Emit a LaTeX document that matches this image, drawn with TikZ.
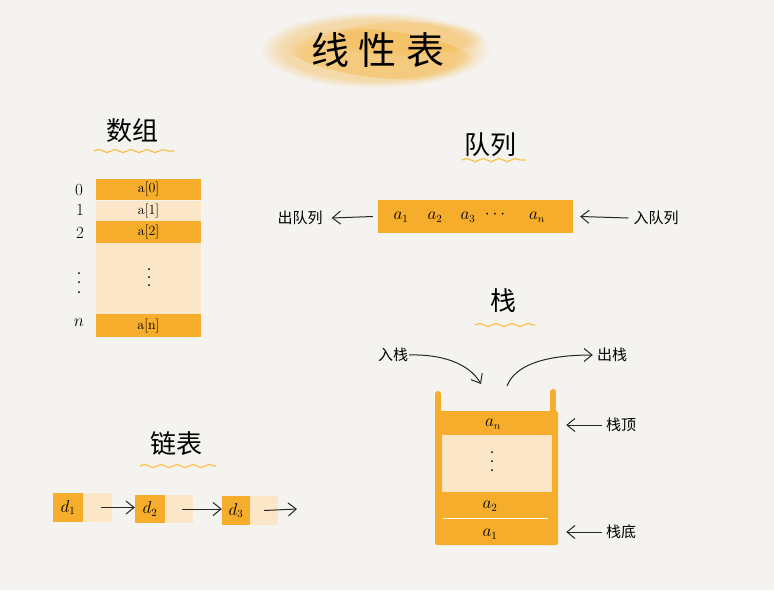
\documentclass[tikz,border=0pt]{standalone}
\usepackage{fontspec}
\newfontfamily\cjk{Noto Sans CJK SC}
\usetikzlibrary{decorations.pathmorphing,arrows.meta,fadings}
\definecolor{bg}{HTML}{F4F3F0}
\definecolor{org}{HTML}{F6AD2B}
\definecolor{peach}{HTML}{FCE6C8}
\definecolor{wavec}{HTML}{F7C04A}
\begin{document}
\begin{tikzpicture}[x=1pt,y=-1pt,
  hdr/.style={font=\cjk\fontsize{26}{30}\selectfont},
  lbl/.style={font=\cjk\fontsize{15}{17}\selectfont, inner sep=1pt},
  elt/.style={font=\fontsize{14}{16}\selectfont, inner sep=0pt},
  idx/.style={font=\fontsize{17}{19}\selectfont, inner sep=0pt},
  sym/.style={font=\fontsize{16}{18}\selectfont, inner sep=0pt},
  cellO/.style={fill=org, draw=none, inner sep=0pt},
  cellP/.style={fill=peach, draw=none, inner sep=0pt},
  wavy/.style={wavec, line width=1.2pt, decorate, decoration={snake, amplitude=1.6pt, segment length=16pt}},
  arr/.style={black!85, line width=1pt, -{Straight Barb[length=8pt,width=13pt]}}]
\useasboundingbox (0,0) rectangle (774,590);
\fill[bg] (0,0) rectangle (774,590);

% title brush
\fill[org, opacity=0.35, path fading=circle with fuzzy edge 20 percent] (375,50) ellipse [x radius=115, y radius=38];
\fill[org, opacity=0.35, path fading=circle with fuzzy edge 20 percent, rotate around={-6:(380,52)}] (380,54) ellipse [x radius=95, y radius=24];
\fill[org, opacity=0.25, path fading=circle with fuzzy edge 20 percent] (405,38) ellipse [x radius=80, y radius=18];
\node[font=\cjk\fontsize{38}{42}\selectfont] (title) at (378,50) {线\hspace{10pt}性\hspace{10pt}表};

% ---------- array ----------
\node[hdr] (arrh) at (132,131) {数组};
\draw[wavy] (94,151) -- (174,151);
\node[cellO, minimum width=105, minimum height=21] (c0) at (148.5,189) {};
\node[cellP, minimum width=105, minimum height=20] (c1) at (148.5,210.5) {};
\node[cellO, minimum width=105, minimum height=22] (c2) at (148.5,232) {};
\node[cellP, minimum width=105, minimum height=71] (cg) at (148.5,278.5) {};
\node[cellO, minimum width=105, minimum height=23] (cn) at (148.5,325.5) {};
\node[elt] at (c0) {a[0]};
\node[elt] at (c1) {a[1]};
\node[elt] at (c2) {a[2]};
\node[elt] at (cn) {a[n]};
\foreach \y in {269,277,285} \fill (149,\y) circle (1);
\node[idx] (i0) at (79,190) {0};
\node[idx] (i1) at (80,210) {1};
\node[idx] (i2) at (80,233) {2};
\foreach \y in {273,282,292} \fill (79,\y) circle (1);
\node[idx] (in) at (79,323) {$n$};

% ---------- queue ----------
\node[hdr] (qh) at (490,145) {队列};
\draw[wavy] (462,160) -- (526,160);
\node[cellO, minimum width=195, minimum height=33] (q) at (475.5,216.5) {};
\node[sym] (q1) at (401,217) {$a_1$};
\node[sym] (q2) at (435,217) {$a_2$};
\node[sym] (q3) at (468,217) {$a_3$};
\node[sym] (qd) at (495,215) {$\cdots$};
\node[sym] (qn) at (537,217) {$a_n$};
\node[lbl] (deq) at (300,218) {出队列};
\node[lbl] (enq) at (656,218) {入队列};
\draw[arr] ([xshift=-5pt]q.west) -- ([xshift=8pt]deq.east);
\draw[arr] ([xshift=-4pt]enq.west) -- ([xshift=7pt]q.east);

% ---------- stack ----------
\node[hdr] (sh) at (503,301) {栈};
\draw[wavy] (475,325) -- (535,325);
\draw[org, line width=6pt, line cap=round] (438,394) -- (438,414);
\draw[org, line width=6pt, line cap=round] (553,392) -- (553,414);
\node[cellO, minimum width=123, minimum height=134, rounded corners=2pt] (stk) at (496.5,478) {};
\node[cellP, minimum width=110, minimum height=57] (sgap) at (497,463.5) {};
\draw[white, line width=0.8pt] (443,518) -- (548,518);
\node[sym] (san) at (493,424) {$a_n$};
\foreach \y in {452,461,470} \fill (492,\y) circle (1);
\node[sym] (sa2) at (490,506) {$a_2$};
\node[sym] (sa1) at (490,534) {$a_1$};
\node[lbl] (push) at (393,355) {入栈};
\node[lbl] (pop) at (612,355) {出栈};
\coordinate (pushend) at (481,384);
\coordinate (popstart) at (507,386);
\draw[arr] (push.east) .. controls (445,354) and (470,365) .. (pushend);
\draw[arr] (popstart) .. controls (515,365) and (545,355) .. ([xshift=-3pt]pop.west);
\node[lbl] (stop) at (621,425) {栈顶};
\node[lbl] (sbot) at (621,532) {栈底};
\draw[arr] ([xshift=-3pt]stop.west) -- ([xshift=8pt]stk.east |- stop.west);
\draw[arr] ([xshift=-3pt]sbot.west) -- ([xshift=8pt]stk.east |- sbot.west);

% ---------- linked list ----------
\node[hdr] (lh) at (176,444) {链表};
\draw[wavy] (140,466) -- (216,466);
\node[cellO, minimum width=30, minimum height=29] (d1) at (68,507.5) {};
\node[cellP, minimum width=29, minimum height=29] (p1) at (97.5,507.5) {};
\node[cellO, minimum width=30, minimum height=28] (d2) at (150,509) {};
\node[cellP, minimum width=28, minimum height=28] (p2) at (179,509) {};
\node[cellO, minimum width=28, minimum height=29] (d3) at (236,510.5) {};
\node[cellP, minimum width=28, minimum height=29] (p3) at (264,510.5) {};
\node[sym] at (d1) {$d_1$};
\node[sym] at (d2) {$d_2$};
\node[sym] at (d3) {$d_3$};
\coordinate (nil) at (297,509);
\draw[arr] ([xshift=3pt]p1.center) -- (d2.west |- p1.center);
\draw[arr] ([xshift=3pt]p2.center) -- (d3.west |- p2.center);
\draw[arr] (p3.center) -- (nil);
\end{tikzpicture}
\end{document}
